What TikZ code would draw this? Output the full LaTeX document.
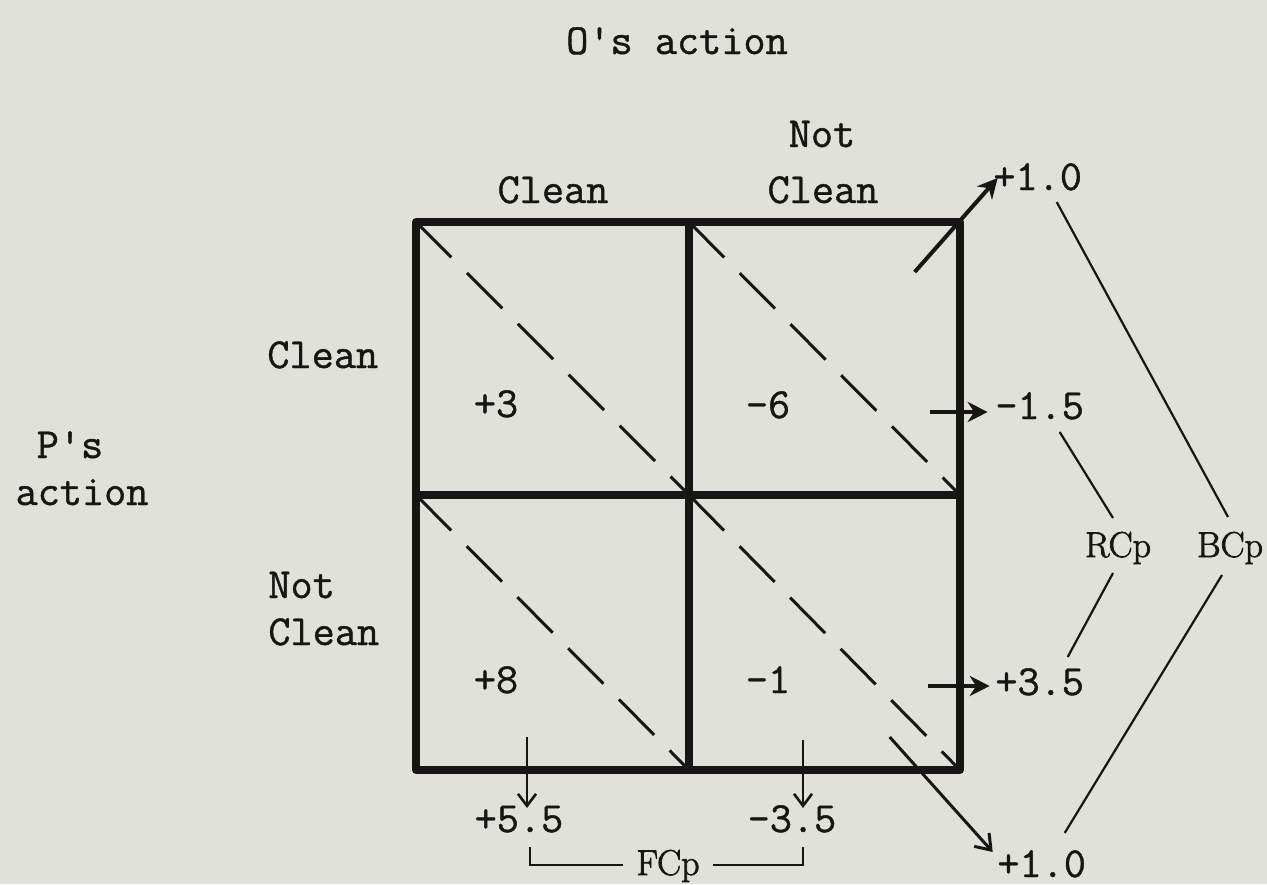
\documentclass[tikz,border=0pt]{standalone}
\usepackage{fontspec}
\newfontfamily\typew[FakeBold=1.0]{Latin Modern Mono}
\newfontfamily\romw[FakeBold=2.0]{Latin Modern Roman}
\usetikzlibrary{arrows.meta,calc}
\definecolor{bg}{RGB}{224,225,217}
\definecolor{ink}{RGB}{24,22,20}
\begin{document}
\begin{tikzpicture}[x=0.5pt,y=-0.5pt,
  lbl/.style={inner sep=0pt, text=ink, font=\typew\fontsize{21.5}{26}\selectfont, anchor=base},
  lblw/.style={lbl, anchor=base west},
  rlbl/.style={inner sep=0pt, text=ink, font=\romw\fontsize{18}{20}\selectfont, anchor=base},
  grid/.style={draw=ink, line width=3.8pt, line cap=round, line join=round},
  diag/.style={draw=ink, line width=1.5pt, dash pattern=on 25pt off 11pt},
  thinline/.style={draw=ink, line width=1.1pt},
  rarrow/.style={draw=ink, line width=2pt, -{Stealth[length=10pt,width=10pt]}},
  varrow/.style={draw=ink, line width=1.1pt, -{Straight Barb[length=6pt,width=9pt,line width=1.3pt]}},
  darrow/.style={draw=ink, line width=1.5pt, -{Straight Barb[length=7pt,width=10pt,line width=1.5pt]}}
]
\fill[bg] (0,0) rectangle (1267,884);
\useasboundingbox (0,0) rectangle (1267,884);

% grid corners
\coordinate (TL) at (416,222); \coordinate (TM) at (689,222); \coordinate (TR) at (960,222);
\coordinate (ML) at (416,495); \coordinate (C)  at (689,495); \coordinate (MR) at (960,495);
\coordinate (BL) at (416,770); \coordinate (BM) at (689,770); \coordinate (BR) at (960,770);

% dashed diagonals
\draw[diag] (TL) -- (C);
\draw[diag] (TM) -- (MR);
\draw[diag] (ML) -- (BM);
\draw[diag] (C) -- (BR);

% grid
\draw[grid] (TL) rectangle (BR);
\draw[grid] (TM) -- (BM);
\draw[grid] (ML) -- (MR);

% labels
\node[lbl] (oact) at (677,54) {O's action};
\node[lbl] (n2) at (822,147) {Not};
\node[lbl] (c1) at (553,203) {Clean};
\node[lbl] (c2) at (823,203) {Clean};
\node[lblw] (r1) at (267,368) {Clean};
\node[lblw] (r2a) at (268,598) {Not};
\node[lblw] (r2b) at (268,645) {Clean};
\node[lbl] (ps) at (70,458) {P's};
\node[lbl] (pa) at (82,505) {action};

\node[lbl] (v3) at (496,417) {+3};
\node[lbl] (v6) at (768,418) {-6};
\node[lbl] (v8) at (496,693) {+8};
\node[lbl] (v1) at (768,693) {-1};

\node[lblw] (p10t) at (993,190) {+1.0};
\node[lblw] (m15) at (995,419) {-1.5};
\node[lblw] (p35) at (995,695) {+3.5};
\node[lblw] (p10b) at (997,877) {+1.0};
\node[lbl] (p55) at (519,832) {+5.5};
\node[lbl] (m35) at (792,832) {-3.5};

\node[rlbl] (rcp) at (1118,557) {RCp};
\node[rlbl] (bcp) at (1230,557) {BCp};
\node[rlbl] (fcp) at (668,875) {FCp};

% arrows
\draw[rarrow] ($(p10t.base)+(-123,82)$) -- ($(p10t.base)+(-40,-12)$);
\draw[rarrow] ($(m15.base)+(-110,-7)$) -- ($(m15.base)+(-52,-7)$);
\draw[rarrow] ($(p35.base)+(-112,-9)$) -- ($(p35.base)+(-50,-9)$);
\draw[darrow] ($(p10b.base)+(-152,-140)$) -- ($(p10b.base)+(-49,-25)$);
\draw[varrow] ($(p55.base)+(8,-95)$) -- ($(p55.base)+(8,-24)$);
\draw[varrow] ($(m35.base)+(11,-92)$) -- ($(m35.base)+(11,-24)$);

% RCp / BCp lines
\draw[thinline] ($(m15.base)+(20,13)$) -- ($(rcp.base)+(-5,-39)$);
\draw[thinline] ($(rcp.base)+(-5,16)$) -- ($(p35.base)+(28,-38)$);
\draw[thinline] ($(p10t.base)+(19,12)$) -- ($(bcp.base)+(-2,-40)$);
\draw[thinline] ($(bcp.base)+(-8,18)$) -- ($(p10b.base)+(23,-44)$);

% FCp bracket
\draw[thinline] ($(p55.base)+(11,15)$) |- ($(fcp.base)+(-45,-10)$);
\draw[thinline] ($(m35.base)+(11,15)$) |- ($(fcp.base)+(45,-10)$);
\end{tikzpicture}
\end{document}
